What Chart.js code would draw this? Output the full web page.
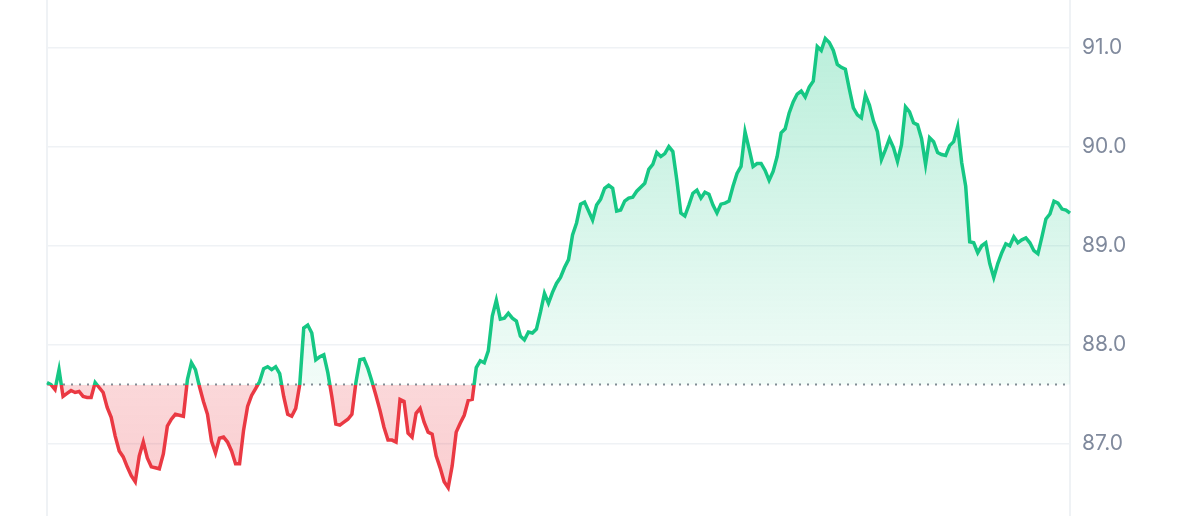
<!DOCTYPE html>
<html><head><meta charset="utf-8">
<script src="https://cdn.jsdelivr.net/npm/chart.js@4"></script>
<style>html,body{margin:0;padding:0;background:#fff;overflow:hidden}#wrap{width:1200px;height:516px}</style>
</head><body><div id="wrap"><canvas id="c" width="1200" height="516"></canvas></div>
<script>
const prices = [
87.62, 87.60, 87.55, 87.75, 87.48, 87.51, 87.54, 87.52, 87.53, 87.48,
87.47, 87.47, 87.62, 87.57, 87.52, 87.37, 87.27, 87.08, 86.93, 86.87,
86.77, 86.68, 86.62, 86.88, 87.02, 86.86, 86.77, 86.76, 86.75, 86.90,
87.18, 87.25, 87.30, 87.29, 87.28, 87.65, 87.82, 87.75, 87.58, 87.43,
87.30, 87.03, 86.91, 87.06, 87.07, 87.02, 86.93, 86.80, 86.80, 87.14,
87.38, 87.49, 87.56, 87.63, 87.76, 87.78, 87.75, 87.78, 87.71, 87.48,
87.30, 87.28, 87.36, 87.60, 88.17, 88.20, 88.12, 87.85, 87.88, 87.90,
87.72, 87.48, 87.20, 87.19, 87.22, 87.25, 87.30, 87.62, 87.85, 87.86,
87.76, 87.63, 87.49, 87.34, 87.17, 87.04, 87.04, 87.02, 87.45, 87.43,
87.11, 87.07, 87.31, 87.36, 87.22, 87.12, 87.10, 86.88, 86.76, 86.62,
86.56, 86.78, 87.12, 87.21, 87.29, 87.44, 87.45, 87.77, 87.84, 87.82,
87.94, 88.29, 88.45, 88.26, 88.27, 88.32, 88.27, 88.24, 88.09, 88.05,
88.13, 88.12, 88.16, 88.33, 88.52, 88.42, 88.53, 88.62, 88.68, 88.78,
88.86, 89.11, 89.23, 89.42, 89.44, 89.35, 89.26, 89.41, 89.47, 89.58,
89.61, 89.58, 89.35, 89.36, 89.45, 89.48, 89.49, 89.55, 89.59, 89.63,
89.77, 89.82, 89.94, 89.90, 89.93, 90.00, 89.95, 89.66, 89.33, 89.30,
89.41, 89.53, 89.56, 89.48, 89.54, 89.52, 89.41, 89.33, 89.42, 89.43,
89.45, 89.60, 89.73, 89.80, 90.15, 89.98, 89.80, 89.83, 89.83, 89.76,
89.66, 89.75, 89.90, 90.14, 90.18, 90.34, 90.45, 90.53, 90.56, 90.50,
90.60, 90.66, 91.01, 90.97, 91.09, 91.05, 90.97, 90.83, 90.80, 90.78,
90.58, 90.39, 90.32, 90.29, 90.52, 90.42, 90.26, 90.15, 89.87, 89.97,
90.08, 89.99, 89.85, 90.02, 90.40, 90.35, 90.24, 90.22, 90.08, 89.82,
90.09, 90.05, 89.94, 89.92, 89.91, 90.01, 90.05, 90.20, 89.84, 89.60,
89.04, 89.03, 88.93, 89.00, 89.03, 88.82, 88.68, 88.82, 88.93, 89.02,
89.00, 89.09, 89.03, 89.06, 89.08, 89.03, 88.95, 88.92, 89.09, 89.27,
89.32, 89.45, 89.43, 89.37, 89.36, 89.33
];
const labels = prices.map((_, i) => i);
const baseline = 87.6;
const yTicks = [87, 88, 89, 90, 91];
const yMin = 86.274, yMax = 91.479;

const GREEN = '22,199,132', RED = '234,57,67';

function basePos(chart) {
  const a = chart.chartArea;
  const p = chart.scales.y.getPixelForValue(baseline);
  return Math.min(1, Math.max(0, (p - a.top) / (a.bottom - a.top)));
}
function strokeGrad(context) {
  const chart = context.chart; const a = chart.chartArea;
  if (!a) return 'rgb(' + GREEN + ')';
  const s = basePos(chart);
  const g = chart.ctx.createLinearGradient(0, a.top, 0, a.bottom);
  g.addColorStop(0, 'rgb(' + GREEN + ')');
  g.addColorStop(s, 'rgb(' + GREEN + ')');
  g.addColorStop(Math.min(1, s + 0.0001), 'rgb(' + RED + ')');
  g.addColorStop(1, 'rgb(' + RED + ')');
  return g;
}
function fillGrad(context) {
  const chart = context.chart; const a = chart.chartArea;
  if (!a) return 'rgba(' + GREEN + ',0.2)';
  const s = basePos(chart);
  const g = chart.ctx.createLinearGradient(0, a.top, 0, a.bottom);
  g.addColorStop(0, 'rgba(' + GREEN + ',0.32)');
  g.addColorStop(s, 'rgba(' + GREEN + ',0.06)');
  g.addColorStop(Math.min(1, s + 0.0001), 'rgba(' + RED + ',0.2)');
  g.addColorStop(1, 'rgba(' + RED + ',0.26)');
  return g;
}

new Chart(document.getElementById('c'), {
  type: 'line',
  data: {
    labels: labels,
    datasets: [
      {
        data: prices,
        borderColor: strokeGrad,
        backgroundColor: fillGrad,
        borderWidth: 3.5,
        pointRadius: 0,
        tension: 0,
        fill: { target: { value: baseline } },
        order: 0
      },
      {
        data: labels.map(() => baseline),
        borderColor: '#858b96',
        borderWidth: 2,
        borderDash: [2, 6],
        pointRadius: 0,
        fill: false,
        order: 1
      }
    ]
  },
  options: {
    responsive: false,
    animation: false,
    devicePixelRatio: 1,
    layout: { autoPadding: false, padding: { left: 47, right: 0, top: 0, bottom: 0 } },
    plugins: { legend: { display: false }, tooltip: { enabled: false } },
    scales: {
      x: {
        type: 'category',
        ticks: { display: false, autoSkip: false },
        grid: { drawTicks: false, lineWidth: 2, color: c => c.index === 0 ? '#eff2f5' : 'rgba(0,0,0,0)' },
        border: { display: false },
        afterFit: s => { s.height = 0; s.paddingLeft = 0; s.paddingRight = 0; }
      },
      y: {
        position: 'right',
        min: yMin,
        max: yMax,
        afterBuildTicks: s => { s.ticks = yTicks.map(v => ({ value: v })); },
        ticks: {
          padding: 12,
          color: '#808a9d',
          font: { family: 'Inter', size: 21 },
          callback: v => Number(v).toFixed(1)
        },
        grid: { color: '#eff2f5', lineWidth: 1.5, drawTicks: false },
        border: { display: true, color: '#eff2f5', width: 2 },
        afterFit: s => { s.width = 130; s.paddingTop = 0; s.paddingBottom = 0; }
      }
    }
  }
});
</script>
</body></html>
